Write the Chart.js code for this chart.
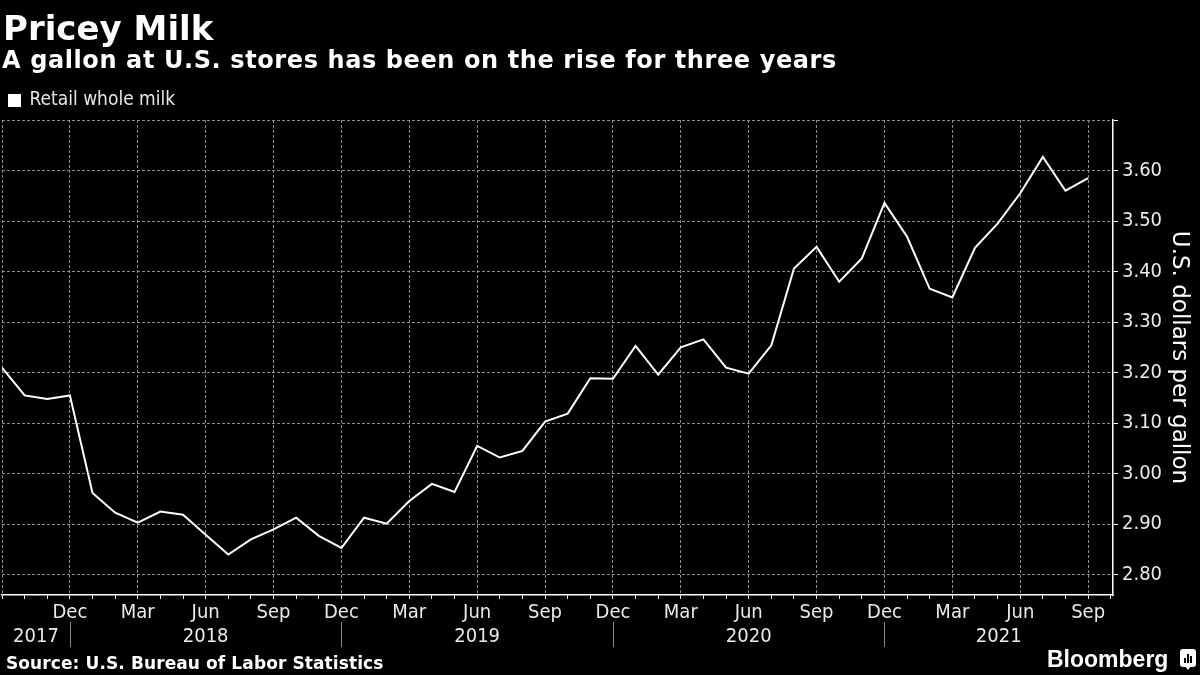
<!DOCTYPE html>
<html><head><meta charset="utf-8">
<script src="https://cdn.jsdelivr.net/npm/chart.js@4.4.1/dist/chart.umd.min.js"></script>
<style>
html,body{margin:0;padding:0;background:#000;}
#wrap{position:relative;width:1200px;height:675px;background:#000;overflow:hidden;}
canvas{position:absolute;left:0;top:0;}
.t{position:absolute;color:#fff;white-space:nowrap;line-height:1;}
#title{left:3px;top:8px;font:bold 34px "DejaVu Sans";}
#sub{left:2px;top:46px;font:bold 24px "DejaVu Sans";letter-spacing:0.6px;}
#src{left:6px;top:653px;font:bold 17px "DejaVu Sans";letter-spacing:0.1px;}
#bb{left:1047px;top:646px;font:bold 23px "Liberation Sans";}
#logo{position:absolute;left:1180px;top:649px;width:16px;height:18px;background:#fff;border-radius:3px;}
#logo:after{content:"";position:absolute;left:5px;top:17px;border-left:3px solid transparent;border-right:3px solid transparent;border-top:4px solid #fff;}
#logo i{position:absolute;bottom:4px;width:2px;background:#000;}
</style></head>
<body><div id="wrap">
<canvas id="c" width="1200" height="675"></canvas>
<div class="t" id="title">Pricey Milk</div>
<div class="t" id="sub">A gallon at U.S. stores has been on the rise for three years</div>
<div class="t" id="src">Source: U.S. Bureau of Labor Statistics</div>
<div class="t" id="bb">Bloomberg</div>
<div id="logo"><i style="left:4px;height:5px"></i><i style="left:7px;height:9px"></i><i style="left:10px;height:7px"></i></div>
</div>
<script>
// ---- data ----
const months = ['2017-09','2017-10','2017-11','2017-12',
 '2018-01','2018-02','2018-03','2018-04','2018-05','2018-06','2018-07','2018-08','2018-09','2018-10','2018-11','2018-12',
 '2019-01','2019-02','2019-03','2019-04','2019-05','2019-06','2019-07','2019-08','2019-09','2019-10','2019-11','2019-12',
 '2020-01','2020-02','2020-03','2020-04','2020-05','2020-06','2020-07','2020-08','2020-09','2020-10','2020-11','2020-12',
 '2021-01','2021-02','2021-03','2021-04','2021-05','2021-06','2021-07','2021-08','2021-09'];
const milkPrice = [3.21,3.155,3.148,3.155,
 2.962,2.923,2.903,2.925,2.919,2.879,2.840,2.870,2.890,2.913,2.877,2.853,
 2.913,2.901,2.946,2.980,2.964,3.055,3.032,3.045,3.103,3.119,3.189,3.188,
 3.253,3.196,3.250,3.266,3.210,3.198,3.254,3.406,3.449,3.380,3.426,3.536,
 3.469,3.366,3.349,3.447,3.495,3.555,3.627,3.560,3.585];
const monthAbbr = ['Jan','Feb','Mar','Apr','May','Jun','Jul','Aug','Sep','Oct','Nov','Dec'];
const labeledMonths = ['Dec','Mar','Jun','Sep'];
const yearLabels = ['2017','2018','2019','2020','2021'];
const yTicks = [2.80,2.85,2.90,2.95,3.00,3.05,3.10,3.15,3.20,3.25,3.30,3.35,3.40,3.45,3.50,3.55,3.60,3.65,3.70];
const yTickLabels = ['2.80','2.90','3.00','3.10','3.20','3.30','3.40','3.50','3.60'];
const yGridValues = ['2.80','2.90','3.00','3.10','3.20','3.30','3.40','3.50','3.60','3.70'];

// ---- helpers ----
const FONT = '"DejaVu Sans Condensed", "DejaVu Sans", sans-serif';
const GRID = 'rgba(140,140,140,1)';
const X_MAX = months.length + 0.1;
const abbrOf = i => { const m = months[Math.round(i)]; return m ? monthAbbr[parseInt(m.slice(5),10)-1] : null; };
const isQuarter = i => labeledMonths.includes(abbrOf(i));

const yearRow = {
  id: 'yearRow',
  afterDraw(chart) {
    const xs = chart.scales.x, ctx = chart.ctx;
    const decIdx = months.map((m,i)=>m.endsWith('-12')?i:-1).filter(i=>i>=0);
    const bounds = [xs.min, ...decIdx, xs.max];
    ctx.save();
    ctx.strokeStyle = '#8a8a8a'; ctx.lineWidth = 1;
    decIdx.forEach(i => {
      const x = Math.round(xs.getPixelForValue(i)) + 0.5;
      ctx.beginPath(); ctx.moveTo(x, 622); ctx.lineTo(x, 647); ctx.stroke();
    });
    ctx.fillStyle = '#eaeaea';
    ctx.font = '20px ' + FONT;
    ctx.textAlign = 'center'; ctx.textBaseline = 'alphabetic';
    yearLabels.forEach((y, k) => {
      const c = (xs.getPixelForValue(bounds[k]) + xs.getPixelForValue(bounds[k+1])) / 2;
      ctx.fillText(y, c, 642);
    });
    ctx.restore();
  }
};

new Chart(document.getElementById('c'), {
  type: 'line',
  data: {
    datasets: [{
      label: 'Retail whole milk',
      data: milkPrice.map((v,i)=>({x:i, y:v})),
      borderColor: '#ffffff', backgroundColor: '#ffffff',
      borderWidth: 2, pointRadius: 0, tension: 0, fill: false
    }]
  },
  options: {
    responsive: false, animation: false, devicePixelRatio: 1,
    layout: { autoPadding: false, padding: { top: 82, left: 0, right: 0, bottom: 0 } },
    plugins: {
      legend: { display: true, position: 'top', align: 'start',
        labels: { color: '#e6e6e6', font: { family: FONT, size: 19 }, boxWidth: 11, boxHeight: 11, padding: 9 } },
      tooltip: { enabled: false }
    },
    scales: {
      x: {
        type: 'linear', min: 0, max: X_MAX,
        afterBuildTicks: s => { s.ticks = months.map((m,i)=>({value:i})).concat([{value: months.length}]); },
        ticks: { autoSkip: false, maxRotation: 0, minRotation: 0, color: '#eaeaea', padding: 2,
          font: { family: FONT, size: 20 },
          callback: v => (v > 0 && isQuarter(v)) ? abbrOf(v) : '' },
        grid: { color: c => (c.tick && isQuarter(c.tick.value)) ? GRID : 'rgba(0,0,0,0)',
          tickColor: '#ffffff', tickLength: 4, lineWidth: 1 },
        border: { color: '#ffffff', width: 1.5, dash: [3, 2] },
        afterFit: s => { s.height = 80; }
      },
      y: {
        position: 'right', min: 2.76, max: 3.70,
        afterBuildTicks: s => { s.ticks = yTicks.map(v=>({value:v})); },
        ticks: { color: '#eaeaea', padding: 4, font: { family: FONT, size: 20 },
          callback: v => yTickLabels.includes(v.toFixed(2)) ? v.toFixed(2) : '' },
        grid: { color: c => (c.tick && yGridValues.includes(c.tick.value.toFixed(2))) ? GRID : 'rgba(0,0,0,0)',
          tickColor: '#ffffff', tickLength: 5, lineWidth: 1 },
        border: { color: '#ffffff', width: 1.5, dash: [3, 2] },
        title: { display: true, text: 'U.S. dollars per gallon', color: '#ffffff',
          font: { family: '"DejaVu Sans", sans-serif', size: 23 }, padding: { top: 7, bottom: 0 } },
        afterFit: s => { s.width = 87; }
      }
    }
  },
  plugins: [yearRow]
});
</script>
</body></html>
